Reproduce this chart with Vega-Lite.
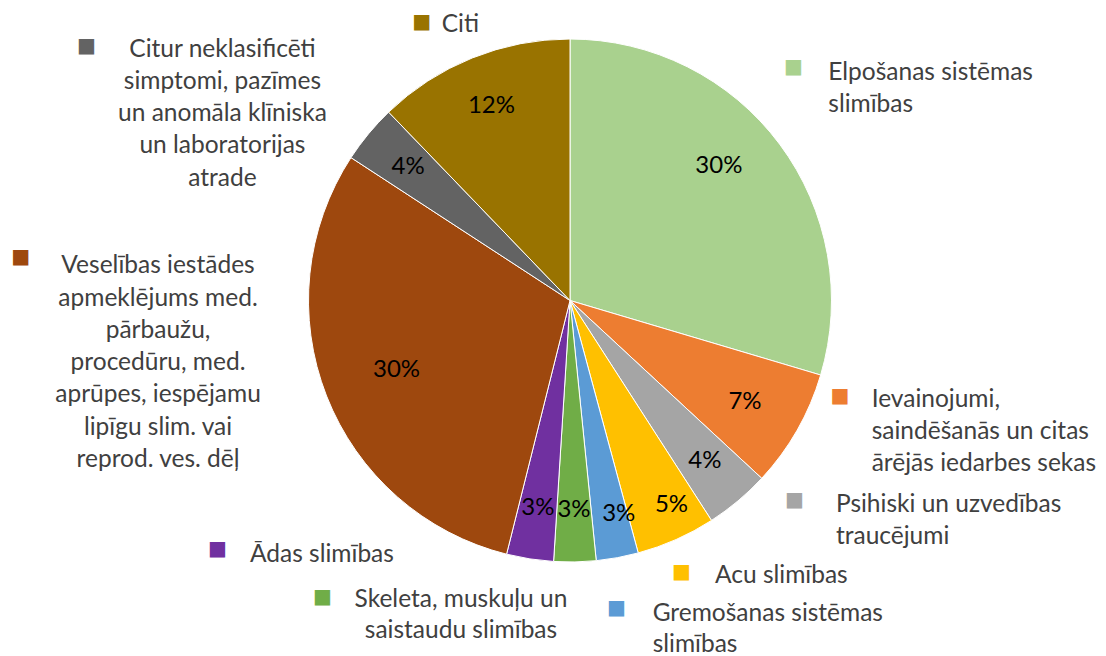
{
  "$schema": "https://vega.github.io/schema/vega-lite/v6.json",
  "width": 1072,
  "height": 601,
  "autosize": {"type": "none"},
  "padding": {"left": 34, "top": 0, "right": 0, "bottom": 55},
  "background": "white",
  "config": {"view": {"stroke": null}, "text": {"font": "Lato"}},
  "data": {
    "values": [
      {"rank": 1, "cat": "Elpošanas sistēmas slimības", "lab": "Elpošanas sistēmas\nslimības", "share": 29.6},
      {"rank": 2, "cat": "Ievainojumi, saindēšanās un citas ārējās iedarbes sekas", "lab": "Ievainojumi,\nsaindēšanās un citas\nārējās iedarbes sekas", "share": 7.3},
      {"rank": 3, "cat": "Psihiski un uzvedības traucējumi", "lab": "Psihiski un uzvedības\ntraucējumi", "share": 4.0},
      {"rank": 4, "cat": "Acu slimības", "lab": "Acu slimības", "share": 4.9},
      {"rank": 5, "cat": "Gremošanas sistēmas slimības", "lab": "Gremošanas sistēmas\nslimības", "share": 2.6},
      {"rank": 6, "cat": "Skeleta, muskuļu un saistaudu slimības", "lab": "Skeleta, muskuļu un\nsaistaudu slimības", "share": 2.6},
      {"rank": 7, "cat": "Ādas slimības", "lab": "Ādas slimības", "share": 2.9},
      {"rank": 8, "cat": "Veselības iestādes apmeklējums med. pārbaužu, procedūru, med. aprūpes, iespējamu lipīgu slim. vai reprod. ves. dēļ", "lab": "Veselības iestādes\napmeklējums med.\npārbaužu,\nprocedūru, med.\naprūpes, iespējamu\nlipīgu slim. vai\nreprod. ves. dēļ", "share": 30.3},
      {"rank": 9, "cat": "Citur neklasificēti simptomi, pazīmes un anomāla klīniska un laboratorijas atrade", "lab": "Citur neklasificēti\nsimptomi, pazīmes\nun anomāla klīniska\nun laboratorijas\natrade", "share": 3.6},
      {"rank": 10, "cat": "Citi", "lab": "Citi", "share": 12.2}
    ]
  },
  "transform": [{"calculate": "format(datum.share, '.0f') + '%'", "as": "pct"}],
  "encoding": {
    "theta": {"field": "share", "type": "quantitative", "stack": true},
    "order": {"field": "rank", "type": "quantitative"},
    "detail": {"field": "cat", "type": "nominal"}
  },
  "layer": [
    {
      "mark": {"type": "arc", "outerRadius": 261.5, "stroke": "white", "strokeWidth": 1},
      "encoding": {
        "color": {
          "field": "cat", "type": "nominal", "legend": null,
          "scale": {
            "domain": ["Elpošanas sistēmas slimības", "Ievainojumi, saindēšanās un citas ārējās iedarbes sekas", "Psihiski un uzvedības traucējumi", "Acu slimības", "Gremošanas sistēmas slimības", "Skeleta, muskuļu un saistaudu slimības", "Ādas slimības", "Veselības iestādes apmeklējums med. pārbaužu, procedūru, med. aprūpes, iespējamu lipīgu slim. vai reprod. ves. dēļ", "Citur neklasificēti simptomi, pazīmes un anomāla klīniska un laboratorijas atrade", "Citi"],
            "range": ["#A9D18E", "#ED7D31", "#A5A5A5", "#FFC000", "#5B9BD5", "#70AD47", "#7030A0", "#9E480E", "#636363", "#997300"]
          }
        }
      }
    },
    {
      "mark": {"type": "text", "radius": 210, "fontSize": 24, "color": "black", "align": "center", "baseline": "middle"},
      "encoding": {"text": {"condition": {"test": "datum.rank === 3 || datum.rank === 6 || datum.rank === 7 || datum.rank === 9 || datum.rank === 10", "field": "pct"}, "value": ""}}
    },
    {
      "mark": {"type": "text", "radius": 210, "fontSize": 24, "color": "black", "align": "center", "baseline": "middle", "dx": -19.5, "dy": -9},
      "encoding": {"text": {"condition": {"test": "datum.rank === 1", "field": "pct"}, "value": ""}}
    },
    {
      "mark": {"type": "text", "radius": 210, "fontSize": 24, "color": "black", "align": "center", "baseline": "middle", "dx": -7.4, "dy": -3},
      "encoding": {"text": {"condition": {"test": "datum.rank === 2", "field": "pct"}, "value": ""}}
    },
    {
      "mark": {"type": "text", "radius": 210, "fontSize": 24, "color": "black", "align": "center", "baseline": "middle", "dx": 16.3, "dy": 12.9},
      "encoding": {"text": {"condition": {"test": "datum.rank === 4", "field": "pct"}, "value": ""}}
    },
    {
      "mark": {"type": "text", "radius": 210, "fontSize": 24, "color": "black", "align": "center", "baseline": "middle", "dx": 10.7, "dy": 7},
      "encoding": {"text": {"condition": {"test": "datum.rank === 5", "field": "pct"}, "value": ""}}
    },
    {
      "mark": {"type": "text", "radius": 210, "fontSize": 24, "color": "black", "align": "center", "baseline": "middle", "dx": 22, "dy": -7.2},
      "encoding": {"text": {"condition": {"test": "datum.rank === 8", "field": "pct"}, "value": ""}}
    },
    {"mark": {"type": "text", "radius": 300, "fontSize": 24.5, "color": "#404040", "align": "left", "baseline": "alphabetic", "lineBreak": "\n", "lineHeight": 32.25, "dx": 17.8, "dy": -41.1},
     "encoding": {"text": {"condition": {"test": "datum.rank === 1", "field": "lab"}, "value": ""}}},
    {"mark": {"type": "text", "radius": 300, "fontSize": 24.5, "color": "#404040", "align": "left", "baseline": "alphabetic", "lineBreak": "\n", "lineHeight": 32.25, "dx": 41.1, "dy": -42.4},
     "encoding": {"text": {"condition": {"test": "datum.rank === 2", "field": "lab"}, "value": ""}}},
    {"mark": {"type": "text", "radius": 300, "fontSize": 24.5, "color": "#404040", "align": "left", "baseline": "alphabetic", "lineBreak": "\n", "lineHeight": 32.25, "dx": 73.3, "dy": -18.8},
     "encoding": {"text": {"condition": {"test": "datum.rank === 3", "field": "lab"}, "value": ""}}},
    {"mark": {"type": "text", "radius": 300, "fontSize": 24.5, "color": "#404040", "align": "left", "baseline": "alphabetic", "lineBreak": "\n", "lineHeight": 32.25, "dx": 23.3, "dy": 8.6},
     "encoding": {"text": {"condition": {"test": "datum.rank === 4", "field": "lab"}, "value": ""}}},
    {"mark": {"type": "text", "radius": 300, "fontSize": 24.5, "color": "#404040", "align": "left", "baseline": "alphabetic", "lineBreak": "\n", "lineHeight": 30.5, "dx": 28.3, "dy": 25.7},
     "encoding": {"text": {"condition": {"test": "datum.rank === 5", "field": "lab"}, "value": ""}}},
    {"mark": {"type": "text", "radius": 300, "fontSize": 24.5, "color": "#404040", "align": "center", "baseline": "alphabetic", "lineBreak": "\n", "lineHeight": 31, "dx": -114.7, "dy": 6.9},
     "encoding": {"text": {"condition": {"test": "datum.rank === 6", "field": "lab"}, "value": ""}}},
    {"mark": {"type": "text", "radius": 300, "fontSize": 24.5, "color": "#404040", "align": "left", "baseline": "alphabetic", "lineBreak": "\n", "lineHeight": 32.25, "dx": -274, "dy": -35.3},
     "encoding": {"text": {"condition": {"test": "datum.rank === 7", "field": "lab"}, "value": ""}}},
    {"mark": {"type": "text", "radius": 300, "fontSize": 24.5, "color": "#404040", "align": "center", "baseline": "alphabetic", "lineBreak": "\n", "lineHeight": 32.25, "dx": -132.7, "dy": -136.8},
     "encoding": {"text": {"condition": {"test": "datum.rank === 8", "field": "lab"}, "value": ""}}},
    {"mark": {"type": "text", "radius": 300, "fontSize": 24.5, "color": "#404040", "align": "center", "baseline": "alphabetic", "lineBreak": "\n", "lineHeight": 32.25, "dx": -116.4, "dy": -52.6},
     "encoding": {"text": {"condition": {"test": "datum.rank === 9", "field": "lab"}, "value": ""}}},
    {"mark": {"type": "text", "radius": 300, "fontSize": 24.5, "color": "#404040", "align": "left", "baseline": "alphabetic", "lineBreak": "\n", "lineHeight": 32.25, "dx": -16.1, "dy": 9.4},
     "encoding": {"text": {"condition": {"test": "datum.rank === 10", "field": "lab"}, "value": ""}}},
    {"mark": {"type": "text", "radius": 300, "font": "DejaVu Sans", "fontSize": 20, "align": "center", "baseline": "middle", "dx": -16.9, "dy": -53.7},
     "encoding": {"text": {"condition": {"test": "datum.rank === 1", "value": "■"}, "value": ""}, "color": {"field": "cat", "type": "nominal", "legend": null}}},
    {"mark": {"type": "text", "radius": 300, "font": "DejaVu Sans", "fontSize": 20, "align": "center", "baseline": "middle", "dx": 9.4, "dy": -53.6},
     "encoding": {"text": {"condition": {"test": "datum.rank === 2", "value": "■"}, "value": ""}, "color": {"field": "cat", "type": "nominal", "legend": null}}},
    {"mark": {"type": "text", "radius": 300, "font": "DejaVu Sans", "fontSize": 20, "align": "center", "baseline": "middle", "dx": 31.8, "dy": -30.7},
     "encoding": {"text": {"condition": {"test": "datum.rank === 3", "value": "■"}, "value": ""}, "color": {"field": "cat", "type": "nominal", "legend": null}}},
    {"mark": {"type": "text", "radius": 300, "font": "DejaVu Sans", "fontSize": 20, "align": "center", "baseline": "middle", "dx": -10.2, "dy": -3},
     "encoding": {"text": {"condition": {"test": "datum.rank === 4", "value": "■"}, "value": ""}, "color": {"field": "cat", "type": "nominal", "legend": null}}},
    {"mark": {"type": "text", "radius": 300, "font": "DejaVu Sans", "fontSize": 20, "align": "center", "baseline": "middle", "dx": -7.9, "dy": 12},
     "encoding": {"text": {"condition": {"test": "datum.rank === 5", "value": "■"}, "value": ""}, "color": {"field": "cat", "type": "nominal", "legend": null}}},
    {"mark": {"type": "text", "radius": 300, "font": "DejaVu Sans", "fontSize": 20, "align": "center", "baseline": "middle", "dx": -253.2, "dy": -3.7},
     "encoding": {"text": {"condition": {"test": "datum.rank === 6", "value": "■"}, "value": ""}, "color": {"field": "cat", "type": "nominal", "legend": null}}},
    {"mark": {"type": "text", "radius": 300, "font": "DejaVu Sans", "fontSize": 20, "align": "center", "baseline": "middle", "dx": -306.5, "dy": -47.5},
     "encoding": {"text": {"condition": {"test": "datum.rank === 7", "value": "■"}, "value": ""}, "color": {"field": "cat", "type": "nominal", "legend": null}}},
    {"mark": {"type": "text", "radius": 300, "font": "DejaVu Sans", "fontSize": 20, "align": "center", "baseline": "middle", "dx": -269.9, "dy": -153.4},
     "encoding": {"text": {"condition": {"test": "datum.rank === 8", "value": "■"}, "value": ""}, "color": {"field": "cat", "type": "nominal", "legend": null}}},
    {"mark": {"type": "text", "radius": 300, "font": "DejaVu Sans", "fontSize": 20, "align": "center", "baseline": "middle", "dx": -252.5, "dy": -63.5},
     "encoding": {"text": {"condition": {"test": "datum.rank === 9", "value": "■"}, "value": ""}, "color": {"field": "cat", "type": "nominal", "legend": null}}},
    {"mark": {"type": "text", "radius": 300, "font": "DejaVu Sans", "fontSize": 20, "align": "center", "baseline": "middle", "dx": -36.1, "dy": -0.2},
     "encoding": {"text": {"condition": {"test": "datum.rank === 10", "value": "■"}, "value": ""}, "color": {"field": "cat", "type": "nominal", "legend": null}}}
  ]
}
